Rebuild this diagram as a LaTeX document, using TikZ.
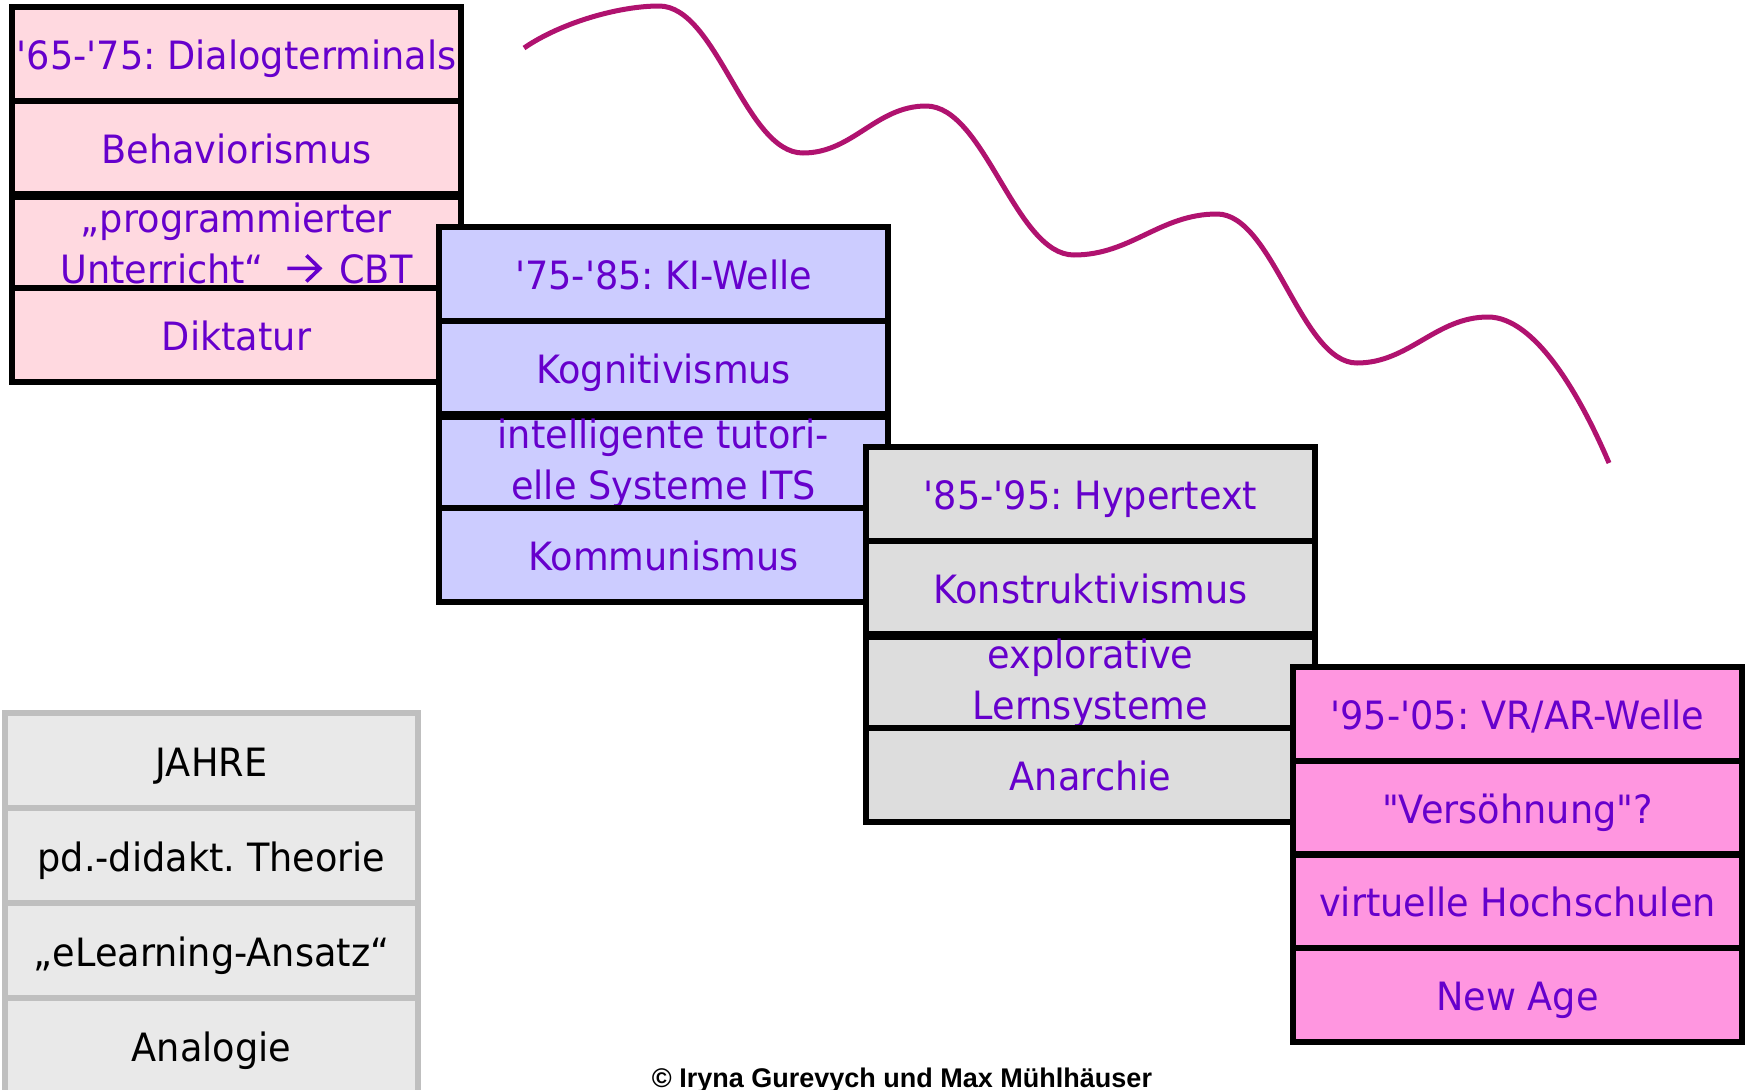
\documentclass[tikz,border=0pt]{standalone}
\usepackage{fontspec}
\setmainfont{DejaVu Sans}[Ligatures=TeXOff, FakeStretch=0.94]
\newfontfamily\cfont{Liberation Sans}[Ligatures=TeXOff]
\frenchspacing
\definecolor{txt}{HTML}{6600CC}
\definecolor{fa}{HTML}{FFD9E0}
\definecolor{fb}{HTML}{CCCCFF}
\definecolor{fc}{HTML}{DDDDDD}
\definecolor{fd}{HTML}{FF96E0}
\definecolor{lgfill}{HTML}{E9E9E9}
\definecolor{lgline}{HTML}{BFBFBF}
\definecolor{wavec}{HTML}{B0126F}
\newcommand{\bigarrow}{\hspace{10pt}\tikz[baseline=0pt,x=1pt,y=1pt]{\draw[txt,line width=3.6pt,line join=miter,line cap=butt] (0,15)--(32,15) (19,28)--(32.5,15)--(19,2);}\hspace{6pt}}
\tikzset{
  rowbox/.style={draw=black, line width=6pt, minimum width=449pt, minimum height=93.75pt,
    inner sep=0pt, outer sep=0pt, align=center, text=txt, font=\fontsize{39}{51}\selectfont},
  onerow/.style={rowbox, text height=39pt, text depth=8pt},
  lgbox/.style={draw=lgline, fill=lgfill, line width=6pt, minimum width=413pt, minimum height=95pt,
    inner sep=0pt, outer sep=0pt, align=center, text=black, font=\fontsize{39}{51}\selectfont,
    text height=39pt, text depth=8pt},
  wave/.style={draw=wavec, line width=5pt}
}
\begin{document}
\begin{tikzpicture}[x=1pt,y=-1pt]
\useasboundingbox (0,0) rectangle (1749,1090);
% block 1
\node[onerow, fill=fa] (a1) at (236.5,53.9) {'65-'75: Dialogterminals};
\node[onerow, fill=fa] (a2) at (236.5,147.6) {Behaviorismus};
\node[rowbox, fill=fa] (a3) at (236.5,243.4) {„programmierter\\Unterricht“ \bigarrow\ CBT};
\node[onerow, fill=fa] (a4) at (236.5,335.1) {Diktatur};
% block 2
\node[onerow, fill=fb] (b1) at (663.5,273.9) {'75-'85: KI-Welle};
\node[onerow, fill=fb] (b2) at (663.5,367.6) {Kognitivismus};
\node[rowbox, fill=fb] (b3) at (663.5,463.4) {intelligente tutori-\\elle Systeme ITS};
\node[onerow, fill=fb] (b4) at (663.5,555.1) {Kommunismus};
% block 3
\node[onerow, fill=fc] (c1) at (1090.5,493.9) {'85-'95: Hypertext};
\node[onerow, fill=fc] (c2) at (1090.5,587.6) {Konstruktivismus};
\node[rowbox, fill=fc] (c3) at (1090.5,683.4) {explorative\\Lernsysteme};
\node[onerow, fill=fc] (c4) at (1090.5,775.1) {Anarchie};
% block 4
\node[onerow, fill=fd] (d1) at (1517.5,713.9) {'95-'05: VR/AR-Welle};
\node[onerow, fill=fd] (d2) at (1517.5,807.6) {"Versöhnung"?};
\node[onerow, fill=fd] (d3) at (1517.5,901.4) {virtuelle Hochschulen};
\node[onerow, fill=fd] (d4) at (1517.5,995.1) {New Age};
% legend
\node[lgbox] (l1) at (211.5,760.5) {JAHRE};
\node[lgbox] (l2) at (211.5,855.5) {pd.-didakt. Theorie};
\node[lgbox] (l3) at (211.5,950.5) {„eLearning-Ansatz“};
\node[lgbox] (l4) at (211.5,1045.5) {Analogie};
% copyright
\node[anchor=base, inner sep=0pt, font=\cfont\bfseries\fontsize{27}{30}\selectfont] (copy) at (902,1087) {© Iryna Gurevych und Max Mühlhäuser};
% wave
\coordinate (w0) at (524,48);
\coordinate (p1) at (659,6);
\coordinate (t1) at (803,153);
\coordinate (p2) at (926,106);
\coordinate (t2) at (1074,255);
\coordinate (p3) at (1217,214);
\coordinate (t3) at (1357,363);
\coordinate (p4) at (1488,317);
\coordinate (we) at (1609,463);
\draw[wave] (w0) .. controls (562,22) and (620,6) .. (p1)
  .. controls (717,6) and (745,153) .. (t1)
  .. controls (853,153) and (876,106) .. (p2)
  .. controls (985,106) and (1015,255) .. (t2)
  .. controls (1131,255) and (1160,214) .. (p3)
  .. controls (1273,214) and (1301,363) .. (t3)
  .. controls (1409,363) and (1436,317) .. (p4)
  .. controls (1535,317) and (1580,395) .. (we);
\end{tikzpicture}
\end{document}
